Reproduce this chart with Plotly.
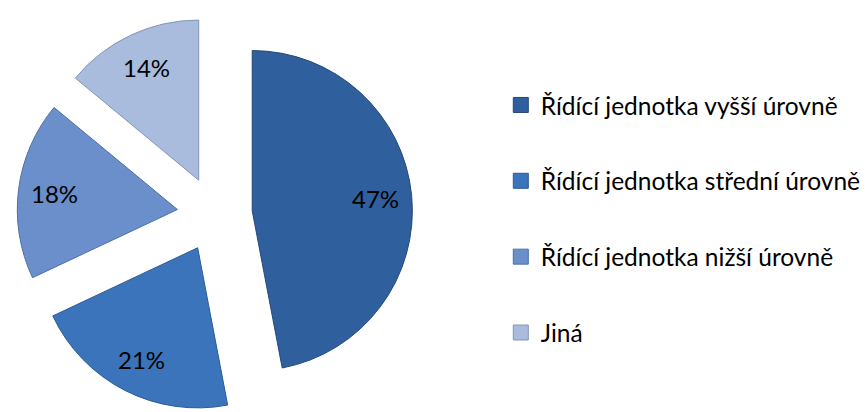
import numpy as np
import plotly.graph_objects as go

# Share of control units by level
labels = [
    "Řídící jednotka vyšší úrovně",
    "Řídící jednotka střední úrovně",
    "Řídící jednotka nižší úrovně",
    "Jiná",
]
values = [47, 21, 18, 14]

fill_colors = ["#2F5F9C", "#3B74BA", "#6A8FCA", "#A9BCDD"]
edge_colors = ["#23487A", "#2C5B95", "#4E70A6", "#8396B8"]

FONT = "Lato"
W, H = 866, 412
PULL = 0.235
DOM_X = [0.0, 0.5]
DOM_Y = [0.0, 0.96]
LABEL_RADIUS = 0.78  # where the percentage sits, as a fraction of the radius

fig = go.Figure()

fig.add_trace(go.Pie(
    labels=labels,
    values=values,
    sort=False,
    direction="clockwise",
    rotation=0,
    pull=[PULL] * len(values),
    marker=dict(colors=fill_colors, line=dict(color=edge_colors, width=1)),
    textinfo="none",
    hoverinfo="label+percent",
    showlegend=False,
    domain=dict(x=DOM_X, y=DOM_Y),
))

# Percentage labels, placed along each slice's bisector the same way the
# pie lays out its geometry (radius shrinks to leave room for the pull).
box_w = W * (DOM_X[1] - DOM_X[0])
box_h = H * (DOM_Y[1] - DOM_Y[0])
r = min(box_w, box_h) / (2 + 2 * PULL)
cx = W * (DOM_X[0] + DOM_X[1]) / 2
cy = H * (2 - DOM_Y[0] - DOM_Y[1]) / 2  # from the top
vals = np.array(values, dtype=float)
shares = vals / vals.sum()
starts = np.concatenate([[0.0], np.cumsum(shares)[:-1]])
mids = (starts + shares / 2) * 2 * np.pi
for share, ang in zip(shares, mids):
    dist = r * (PULL + LABEL_RADIUS)
    px = cx + dist * np.sin(ang)
    py = cy - dist * np.cos(ang)
    fig.add_annotation(
        x=px / W, y=1 - py / H, xref="paper", yref="paper",
        text=f"{round(share * 100)}%", showarrow=False,
        xanchor="center", yanchor="middle",
        font=dict(family=FONT, size=24, color="#000000"),
    )

# Legend entries: one group per category so the rows can be spaced apart
for lab, col, edge in zip(labels, fill_colors, edge_colors):
    fig.add_trace(go.Scatter(
        x=[None], y=[None],
        mode="markers",
        name=lab,
        legendgroup=lab,
        marker=dict(symbol="square", size=15, color=col,
                    line=dict(color=edge, width=1)),
        hoverinfo="skip",
    ))

fig.update_layout(
    width=W,
    height=H,
    margin=dict(l=0, r=0, t=0, b=0),
    paper_bgcolor="#FFFFFF",
    plot_bgcolor="#FFFFFF",
    xaxis=dict(visible=False),
    yaxis=dict(visible=False),
    showlegend=True,
    legend=dict(
        x=0.583, y=0.4684,
        xanchor="left", yanchor="middle",
        font=dict(family=FONT, size=24.5, color="#000000"),
        tracegroupgap=41,
        bgcolor="rgba(0,0,0,0)",
        itemclick=False,
        itemdoubleclick=False,
    ),
)

fig.write_html("out.html")
